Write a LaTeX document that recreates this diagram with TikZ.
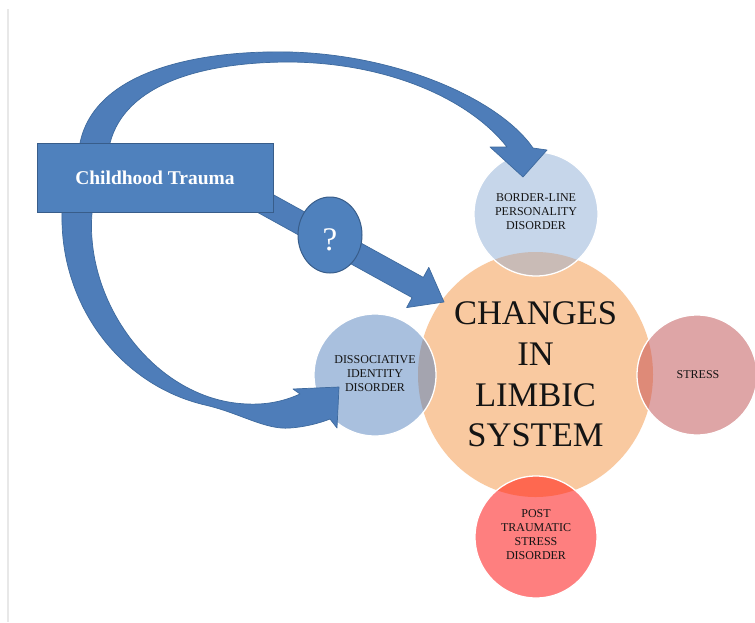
\documentclass[tikz,border=0pt]{standalone}
\usepackage{fontspec}
\setmainfont{Liberation Serif}
\definecolor{corefill}{HTML}{F9C9A0}
\definecolor{bpdfill}{HTML}{C6D6EA}
\definecolor{bpdmix}{HTML}{C9BBB6}
\definecolor{didfill}{HTML}{A9C0DE}
\definecolor{didmix}{HTML}{A4A4AF}
\definecolor{stressfill}{HTML}{DEA5A6}
\definecolor{stressmix}{HTML}{DE8A78}
\definecolor{ptsdfill}{HTML}{FE7F7F}
\definecolor{ptsdmix}{HTML}{FE6850}
\definecolor{arrowblue}{HTML}{4E7DB9}
\definecolor{arrowedge}{HTML}{3E6A9E}
\definecolor{boxblue}{HTML}{4F81BD}
\definecolor{boxedge}{HTML}{385D8A}
\definecolor{txtdark}{HTML}{141414}
\begin{document}
\begin{tikzpicture}[x=1pt,y=-1pt,
  arrowshape/.style={fill=arrowblue, draw=arrowedge, line width=0.7pt, line join=round},
  sattext/.style={align=center, font=\fontsize{12}{14}\selectfont, text=txtdark, inner sep=0pt},
  rim/.style={draw=white, line width=1.3pt}]
\useasboundingbox (0,0) rectangle (755,622);
\fill[white] (0,0) rectangle (755,622);
% page edge on the left
\draw[black!9, line width=1.5pt] (8,9) -- (8,622);

% centres of the radial diagram
\coordinate (corec) at (535.5,374.5);
\coordinate (bpdc) at (536,214);
\coordinate (didc) at (375,375);
\coordinate (stressc) at (697,375);
\coordinate (ptsdc) at (536,537);

% core and satellites
\fill[corefill] (corec) ellipse [x radius=117.5, y radius=122.5];
\fill[bpdfill] (bpdc) circle[radius=62];
\fill[didfill] (didc) circle[radius=61];
\fill[stressfill] (stressc) circle[radius=60];
\fill[ptsdfill] (ptsdc) circle[radius=61];
\begin{scope}
  \clip (corec) ellipse [x radius=117.5, y radius=122.5];
  \fill[bpdmix] (bpdc) circle[radius=62];
  \fill[didmix] (didc) circle[radius=61];
  \fill[stressmix] (stressc) circle[radius=60];
  \fill[ptsdmix] (ptsdc) circle[radius=61];
\end{scope}
\draw[rim] (bpdc) circle[radius=62];
\draw[rim] (didc) circle[radius=61];
\draw[rim] (stressc) circle[radius=60];
\draw[rim] (ptsdc) circle[radius=61];

\node[align=center, inner sep=0pt, text=txtdark, font=\fontsize{34.5}{40.7}\selectfont] (core) at (corec) {CHANGES\\IN\\LIMBIC\\SYSTEM};
\node[sattext] (bpd) at (536,212) {BORDER-LINE\\PERSONALITY\\DISORDER};
\node[sattext] (did) at (375,374) {DISSOCIATIVE\\IDENTITY\\DISORDER};
\node[sattext] (stress) at (698,375) {STRESS};
\node[sattext] (ptsd) at (536,535) {POST\\TRAUMATIC\\STRESS\\DISORDER};

% curved arrow over the top, into the border-line circle
\draw[arrowshape] (80,150) -- (80,143)
  .. controls (95,70) and (200,50) .. (290,52)
  .. controls (400,55) and (500,100) .. (533,148)
  -- (547,150) -- (523,177) -- (490,147) -- (507,147)
  .. controls (470,100) and (390,63) .. (290,62)
  .. controls (200,62) and (125,85) .. (110,143)
  -- (110,150) -- cycle;

% curved arrow underneath, into the dissociative circle
\draw[arrowshape] (62,205) -- (62,213)
  .. controls (60,305) and (120,385) .. (205,405)
  .. controls (240,413) and (265,430) .. (290,428)
  .. controls (305,427) and (320,423) .. (330,419)
  -- (337,428) -- (339,387) -- (293,389) -- (300,394)
  .. controls (280,403) and (260,406) .. (235,403)
  .. controls (150,392) and (85,300) .. (92,213)
  -- (92,205) -- cycle;

% straight arrow into the core
\draw[arrowshape] (235.6,173.9) -- (423.3,277.4) -- (428.8,267.4) -- (444,302)
  -- (406.6,307.6) -- (412.1,297.6) -- (224.5,194.1) -- cycle;

% source box
\node[draw=boxedge, fill=boxblue, line width=1pt, minimum width=236pt, minimum height=69pt,
  inner sep=0pt, text=white, font=\bfseries\fontsize{19.5}{22}\selectfont] (trauma) at (155,177.5) {Childhood Trauma};

% question mark on the straight arrow
\draw[fill=boxblue, draw=boxedge, line width=1pt] (330,235) ellipse [x radius=32, y radius=38];
\node[text=white, inner sep=0pt, font=\fontsize{33}{36}\selectfont] (query) at (330,240) {?};
\end{tikzpicture}
\end{document}
